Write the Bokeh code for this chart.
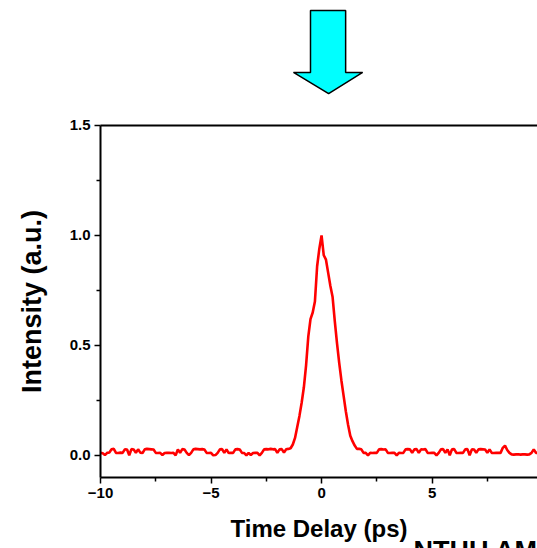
import numpy as np
from bokeh.plotting import figure
from bokeh.models import Range1d, LinearAxis, FixedTicker, NumeralTickFormatter
from bokeh.core.properties import value
from bokeh.embed import file_html
from bokeh.resources import INLINE

# ---- data ----
x_start = -10.0
x_step = 0.1

left_baseline = [
    0.012, 0.010, 0.002, 0.012, 0.014, 0.028, 0.030, 0.012, 0.011, 0.013,
    0.012, 0.028, 0.027, 0.001, 0.029, 0.027, 0.012, 0.028, 0.013, 0.011,
    0.028, 0.030, 0.029, 0.028, 0.027, 0.012, 0.011, 0.012, 0.002, 0.011,
    0.012, 0.012, 0.011, 0.012, 0.001, 0.028, 0.012, 0.029, 0.027, 0.012,
    0.002, 0.012, 0.028, 0.030, 0.029, 0.028, 0.029, 0.027, 0.012, 0.011,
    0.012, 0.001, 0.002, 0.012, 0.028, 0.029, 0.012, 0.028, 0.011, 0.012,
    0.012, 0.028, 0.029, 0.027, 0.012, 0.011, 0.001, 0.012, 0.002, 0.011,
    0.012, 0.012, 0.001, 0.012, 0.028, 0.029, 0.028, 0.030, 0.028, 0.029,
    0.012, 0.028, 0.029, 0.013, 0.028, 0.030,
]
peak = [
    0.033, 0.05, 0.08, 0.13, 0.18, 0.24, 0.31, 0.41, 0.54, 0.62,
    0.65, 0.70, 0.86, 0.94, 1.00, 0.91, 0.89, 0.83, 0.77, 0.72,
    0.61, 0.51, 0.42, 0.34, 0.27, 0.20, 0.14, 0.09, 0.065, 0.045,
    0.03, 0.03,
]
right_baseline = [
    0.028, 0.012, 0.012, 0.001, 0.012, 0.011, 0.012, 0.012, 0.028, 0.029,
    0.027, 0.028, 0.012, 0.011, 0.012, 0.012, 0.001, 0.012, 0.011, 0.012,
    0.028, 0.029, 0.028, 0.012, 0.028, 0.029, 0.012, 0.028, 0.027, 0.029,
    0.012, 0.011, 0.012, 0.012, 0.001, 0.012, 0.028, 0.029, 0.012, 0.028,
    0.001, 0.028, 0.029, 0.012, 0.011, 0.012, 0.012, 0.028, 0.029, 0.001,
    0.028, 0.027, 0.012, 0.028, 0.029, 0.028, 0.027, 0.012, 0.028, 0.012,
    0.011, 0.012, 0.012, 0.012, 0.035, 0.045, 0.025, 0.012, 0.005, 0.004,
    0.005, 0.006, 0.004, 0.005, 0.005, 0.004, 0.005, 0.012, 0.028, 0.012,
    0.012,
]
intensity = left_baseline + peak + right_baseline
time_delay = [round(x_start + i * x_step, 2) for i in range(len(intensity))]

x_ticks = [-10, -5, 0, 5, 10]
x_minor = [-7.5, -2.5, 2.5, 7.5]
y_ticks = [0.0, 0.5, 1.0, 1.5]
y_minor = [0.25, 0.75, 1.25]
x_min, x_max = -10, 10
y_min, y_max = -0.1, 1.5

# arrow decoration (data coordinates above the axes)
arrow_x = [-0.50, 1.09, 1.09, 1.86, 0.32, -1.27, -0.50]
arrow_y = [2.023, 2.023, 1.741, 1.741, 1.645, 1.741, 1.741]

# watermark text partly cut off at the bottom-right
note_text = ["NTHU AMO"]
note_x = [4.16]
note_y = [-0.364]

FONT = "Liberation Sans"

p = figure(width=537, height=548, output_backend="svg", toolbar_location=None,
           x_range=Range1d(-14.525, 9.77), y_range=Range1d(-0.4227, 2.068),
           min_border_left=0, min_border_right=0, min_border_top=0,
           min_border_bottom=0)
p.outline_line_color = None
p.grid.visible = False
p.background_fill_color = "white"
p.border_fill_color = "white"

xa = p.below[0]
ya = p.left[0]

p.line(time_delay, intensity, line_color="#FF0000", line_width=2.6)

p.patch(arrow_x, arrow_y, fill_color="#00FFFF", line_color="black", line_width=1.5)

p.text(note_x, note_y, text=note_text, text_font=value(FONT), text_font_style="bold",
       text_font_size="27px", text_color="black", text_baseline="top")

for ax in (xa, ya):
    ax.axis_line_width = 2
    ax.major_tick_line_width = 1.5
    ax.minor_tick_line_width = 1.5
    ax.major_tick_out = 6
    ax.major_tick_in = 0
    ax.minor_tick_out = 4
    ax.minor_tick_in = 0
    ax.major_label_text_font = FONT
    ax.major_label_text_font_style = "bold"
    ax.major_label_text_font_size = "15px"
    ax.major_label_text_color = "black"
    ax.axis_label_text_font = FONT
    ax.axis_label_text_font_style = "bold"
    ax.axis_label_text_color = "black"

xa.ticker = FixedTicker(ticks=x_ticks, minor_ticks=x_minor)
xa.fixed_location = y_min
xa.bounds = (x_min, x_max)
xa.major_label_standoff = 4
xa.axis_label = "Time Delay (ps)"
xa.axis_label_text_font_size = "24px"
xa.axis_label_standoff = 14

ya.ticker = FixedTicker(ticks=y_ticks, minor_ticks=y_minor)
ya.formatter = NumeralTickFormatter(format="0.0")
ya.fixed_location = x_min
ya.bounds = (y_min, y_max)
ya.major_label_standoff = 4
ya.axis_label = "Intensity (a.u.)"
ya.axis_label_text_font_size = "27px"
ya.axis_label_standoff = 20

# top frame line as a tick-less axis at y = 1.5
top_axis = LinearAxis(ticker=FixedTicker(ticks=[]), major_label_text_font_size="0px",
                      major_tick_out=0, minor_tick_out=0, axis_line_width=2,
                      fixed_location=y_max, bounds=(x_min, x_max))
p.add_layout(top_axis, "above")

open("out.html", "w").write(file_html(p, INLINE))
